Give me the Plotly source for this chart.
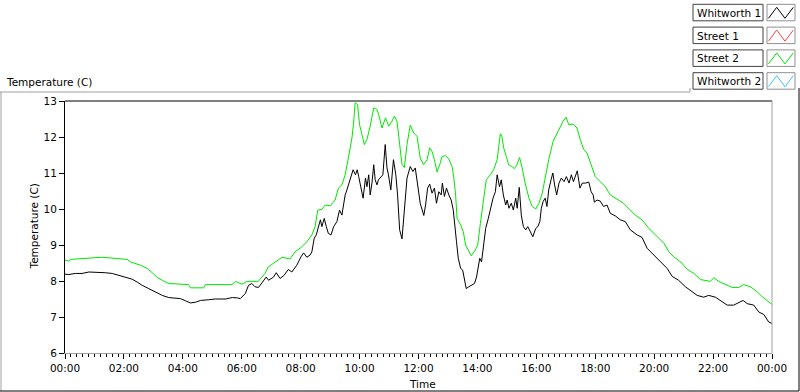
import plotly.graph_objects as go

# ---------------- data (hours since midnight, temperature in C) ----------------
street2_time = [0.00,0.13,0.18,0.92,1.26,2.11,2.22,2.56,2.79,2.96,
    3.13,3.30,3.52,4.20,4.26,4.71,4.77,5.67,5.79,6.01,
    6.18,6.56,6.69,6.79,6.90,7.08,7.24,7.37,7.64,7.81,
    8.04,8.21,8.38,8.49,8.58,8.72,8.83,9.00,9.17,9.28,
    9.40,9.51,9.62,9.74,9.79,9.85,9.93,10.00,10.08,10.16,
    10.25,10.36,10.48,10.59,10.65,10.76,10.88,10.99,11.10,11.18,
    11.27,11.36,11.44,11.52,11.61,11.72,11.84,11.95,12.06,12.17,
    12.29,12.38,12.46,12.54,12.63,12.72,12.80,12.92,13.03,13.14,
    13.20,13.26,13.31,13.43,13.52,13.60,13.71,13.79,13.93,14.01,
    14.10,14.19,14.30,14.44,14.55,14.67,14.78,14.83,14.89,14.98,
    15.06,15.17,15.26,15.34,15.43,15.51,15.62,15.75,15.86,15.98,
    16.09,16.20,16.34,16.42,16.57,16.70,16.81,16.91,17.01,17.10,
    17.25,17.38,17.49,17.61,17.72,17.89,18.00,18.17,18.34,18.51,
    18.79,18.96,19.19,19.36,19.59,19.82,20.11,20.33,20.50,20.67,
    20.90,21.13,21.35,21.57,21.91,22.02,22.19,22.36,22.65,22.87,
    23.04,23.27,23.50,23.67,23.84,24.00]
street2 = [8.58,8.55,8.60,8.63,8.66,8.60,8.53,8.44,8.35,8.23,
    8.10,8.02,7.93,7.90,7.81,7.81,7.90,7.90,7.99,7.91,
    7.99,7.99,8.11,8.21,8.39,8.49,8.58,8.66,8.61,8.81,
    8.95,9.09,9.28,9.51,9.97,9.99,10.11,10.09,10.25,10.58,
    10.67,10.95,11.42,11.97,12.34,12.95,12.90,12.34,12.07,11.79,
    11.93,12.30,12.81,12.76,12.62,12.25,12.53,12.30,12.44,12.58,
    12.44,11.79,11.23,11.15,11.79,12.33,12.11,12.02,11.42,11.23,
    11.37,11.70,11.60,11.37,11.03,11.23,11.46,11.48,11.39,11.18,
    10.86,10.39,9.74,9.56,9.37,9.00,8.81,8.70,8.86,9.00,
    9.60,10.21,10.81,10.95,11.09,11.37,12.09,12.02,11.70,11.46,
    11.23,11.18,11.12,11.23,11.43,11.18,10.72,10.30,10.07,10.00,
    10.16,10.44,11.04,11.37,11.88,12.11,12.30,12.44,12.55,12.34,
    12.36,12.25,11.93,11.65,11.56,11.18,10.90,10.76,10.62,10.39,
    10.25,10.16,9.97,9.83,9.70,9.46,9.23,9.05,8.81,8.67,
    8.53,8.32,8.21,8.04,7.99,8.09,7.99,7.93,7.82,7.82,
    7.90,7.84,7.70,7.56,7.46,7.35]

whitworth1_time = [0.00,0.13,0.35,0.58,0.81,1.03,1.37,1.60,1.82,2.05,
    2.28,2.45,2.62,2.84,3.07,3.30,3.52,3.92,4.09,4.26,
    4.43,4.60,4.88,5.11,5.45,5.68,5.85,5.95,6.12,6.23,
    6.34,6.45,6.57,6.68,6.83,6.91,7.08,7.17,7.30,7.44,
    7.58,7.70,7.87,8.01,8.10,8.21,8.32,8.38,8.46,8.53,
    8.61,8.67,8.72,8.80,8.87,8.94,9.03,9.12,9.23,9.32,
    9.40,9.51,9.57,9.69,9.78,9.86,9.92,9.97,10.03,10.12,
    10.20,10.25,10.31,10.36,10.42,10.48,10.53,10.59,10.64,10.70,
    10.79,10.87,10.93,10.98,11.06,11.15,11.23,11.29,11.36,11.44,
    11.49,11.55,11.61,11.72,11.81,11.89,11.97,12.06,12.18,12.24,
    12.31,12.38,12.46,12.54,12.61,12.69,12.77,12.81,12.88,12.95,
    13.03,13.11,13.18,13.23,13.29,13.35,13.43,13.50,13.56,13.62,
    13.71,13.82,13.90,13.97,14.03,14.08,14.14,14.20,14.28,14.37,
    14.44,14.53,14.61,14.67,14.75,14.81,14.88,14.96,15.01,15.07,
    15.15,15.22,15.30,15.35,15.42,15.49,15.56,15.64,15.71,15.81,
    15.88,15.98,16.05,16.12,16.17,16.23,16.30,16.36,16.42,16.50,
    16.56,16.62,16.69,16.77,16.85,16.94,17.02,17.11,17.19,17.26,
    17.34,17.39,17.48,17.56,17.67,17.78,17.86,17.93,17.97,18.06,
    18.17,18.28,18.40,18.51,18.68,18.85,19.02,19.19,19.42,19.59,
    19.76,19.98,20.21,20.44,20.61,20.83,21.06,21.23,21.46,21.68,
    21.85,22.08,22.31,22.48,22.70,22.87,23.02,23.16,23.38,23.55,
    23.72,23.89,24.00]
whitworth1 = [8.19,8.18,8.21,8.21,8.25,8.25,8.23,8.21,8.16,8.10,
    8.05,7.97,7.88,7.79,7.70,7.60,7.54,7.51,7.45,7.39,
    7.41,7.46,7.48,7.50,7.50,7.54,7.53,7.51,7.65,7.88,
    7.93,7.84,7.82,7.93,8.11,8.02,8.11,8.23,8.07,8.16,
    8.32,8.25,8.44,8.67,8.78,8.66,8.72,8.81,9.19,9.28,
    9.51,9.70,9.51,9.74,9.51,9.32,9.28,9.51,9.65,9.97,
    9.83,10.39,10.53,10.86,11.09,10.95,11.09,10.90,10.62,10.30,
    10.86,10.62,10.95,10.39,10.72,11.23,10.81,10.67,10.81,10.86,
    10.95,11.79,11.14,10.95,10.53,11.37,10.95,10.39,9.42,9.17,
    9.65,10.30,10.86,11.18,11.04,11.14,10.67,10.15,9.82,10.11,
    10.58,10.69,10.44,10.58,10.16,10.48,10.39,10.72,10.35,10.58,
    10.39,10.25,9.97,9.46,9.09,8.63,8.35,8.30,8.07,7.79,
    7.84,7.88,7.93,8.11,8.44,8.63,8.53,9.00,9.46,9.74,
    10.02,10.30,10.48,10.95,10.62,10.81,10.39,10.11,10.25,10.02,
    10.16,9.97,10.30,10.02,10.60,9.83,9.51,9.42,9.51,9.32,
    9.23,9.46,9.51,9.65,10.02,10.21,10.30,10.07,10.53,10.81,
    11.00,10.67,10.39,10.72,10.86,10.76,10.90,10.72,10.95,10.76,
    10.95,11.06,10.58,10.72,10.72,10.75,10.48,10.39,10.19,10.25,
    10.22,10.07,10.11,9.88,9.81,9.70,9.65,9.42,9.28,9.21,
    8.91,8.72,8.53,8.35,8.13,8.02,7.84,7.74,7.60,7.55,
    7.60,7.55,7.42,7.33,7.33,7.39,7.46,7.37,7.33,7.14,
    7.07,6.86,6.82]

# Street 1 and Whitworth 2 are listed in the legend but have no visible data
street1_time, street1 = [], []
whitworth2_time, whitworth2 = [], []

series_names = ["Whitworth 1", "Street 1", "Street 2", "Whitworth 2"]
series_colors = ["#000000", "#ff4040", "#00e800", "#3cc0ff"]

x_tick_vals = [0, 2, 4, 6, 8, 10, 12, 14, 16, 18, 20, 22, 24]
x_tick_text = ["00:00", "02:00", "04:00", "06:00", "08:00", "10:00", "12:00",
               "14:00", "16:00", "18:00", "20:00", "22:00", "00:00"]
y_range = [6, 13]

chart_title = "Temperature (C)"
x_title = "Time"
y_title = "Temperature (C)"

# ---------------- layout geometry ----------------
W, H = 800, 392
ML, MR, MT, MB = 65, 28, 101, 39
PW, PH = W - ML - MR, H - MT - MB


def px(x):
    return (x - ML) / PW


def py(y):
    return (H - MB - y) / PH


FONT = "DejaVu Sans"
FS = 10.5

fig = go.Figure()
series = [(whitworth1_time, whitworth1), (street1_time, street1),
          (street2_time, street2), (whitworth2_time, whitworth2)]
for idx in [2, 1, 3, 0]:
    t, v = series[idx]
    fig.add_trace(go.Scatter(x=t, y=v, mode="lines", name=series_names[idx],
                             line=dict(color=series_colors[idx], width=1),
                             showlegend=False, hoverinfo="skip"))

shapes = []
shapes.append(dict(type="line", xref="paper", yref="paper", x0=0, x1=1, y0=1, y1=1,
                   line=dict(color="#000000", width=1)))
shapes.append(dict(type="line", xref="paper", yref="paper", x0=1, x1=1, y0=0, y1=1,
                   line=dict(color="#a0a0a0", width=1)))
gray = "#a0a0a0"
shapes += [
    dict(type="line", xref="paper", yref="paper", x0=px(0), x1=px(690), y0=py(92), y1=py(92),
         line=dict(color=gray, width=1)),
    dict(type="line", xref="paper", yref="paper", x0=px(1), x1=px(1), y0=py(92), y1=py(391),
         line=dict(color=gray, width=1)),
    dict(type="line", xref="paper", yref="paper", x0=px(690), x1=px(690), y0=py(88), y1=py(92),
         line=dict(color=gray, width=1)),
    dict(type="line", xref="paper", yref="paper", x0=px(0), x1=px(799), y0=py(391), y1=py(391),
         line=dict(color="#000000", width=1)),
    dict(type="line", xref="paper", yref="paper", x0=px(799), x1=px(799), y0=py(88), y1=py(391),
         line=dict(color="#000000", width=1)),
]

annotations = []
for i, (name, col) in enumerate(zip(series_names, series_colors)):
    top = 4.3 + 22.8 * i
    bot = top + 16.5
    shapes.append(dict(type="rect", xref="paper", yref="paper",
                       x0=px(693), x1=px(763), y0=py(top), y1=py(bot),
                       line=dict(color="#404040", width=1), fillcolor="white"))
    shapes.append(dict(type="rect", xref="paper", yref="paper",
                       x0=px(767), x1=px(795), y0=py(top), y1=py(bot),
                       line=dict(color="#909090", width=1), fillcolor="white"))
    pts = [(768.5, top + 14), (776.7, top + 3), (785, top + 14), (793.3, top + 3)]
    path = "M " + " L ".join(f"{px(a):.5f},{py(b):.5f}" for a, b in pts)
    shapes.append(dict(type="path", xref="paper", yref="paper", path=path,
                       line=dict(color=col, width=1)))
    annotations.append(dict(text=name, xref="paper", yref="paper", x=px(695), y=py(top + 8.5),
                            xanchor="left", yanchor="middle", showarrow=False,
                            font=dict(family=FONT, size=FS, color="#000000")))

annotations.append(dict(text=chart_title, xref="paper", yref="paper", x=px(4), y=py(81.5),
                        xanchor="left", yanchor="middle", showarrow=False,
                        font=dict(family=FONT, size=FS, color="#000000")))
annotations.append(dict(text=y_title, xref="paper", yref="paper", x=px(33), y=py(226.5),
                        xanchor="center", yanchor="middle", textangle=-90, showarrow=False,
                        font=dict(family=FONT, size=FS, color="#000000")))
annotations.append(dict(text=x_title, xref="paper", yref="paper", x=px(422), y=py(384),
                        xanchor="center", yanchor="middle", showarrow=False,
                        font=dict(family=FONT, size=FS, color="#000000")))

fig.update_layout(
    width=W, height=H,
    margin=dict(l=ML, r=MR, t=MT, b=MB, pad=0),
    paper_bgcolor="white", plot_bgcolor="white",
    showlegend=False, hovermode=False, dragmode=False,
    font=dict(family=FONT, size=FS, color="#000000"),
    shapes=shapes, annotations=annotations,
    xaxis=dict(range=[0, 24], tickmode="array", tickvals=x_tick_vals, ticktext=x_tick_text,
               showgrid=False, zeroline=False, showline=True, linecolor="#a0a0a0", linewidth=1,
               ticks="outside", ticklen=5, tickcolor="#000000", tickwidth=1,
               minor=dict(dtick=0.2, tick0=0, ticks="outside", ticklen=3,
                          tickcolor="#000000", tickwidth=1, showgrid=False),
               tickfont=dict(family=FONT, size=FS, color="#000000")),
    yaxis=dict(range=y_range, dtick=1, tick0=6, showgrid=False, zeroline=False,
               showline=True, linecolor="#000000", linewidth=1,
               ticks="outside", ticklen=5, tickcolor="#000000", tickwidth=1,
               tickfont=dict(family=FONT, size=FS, color="#000000")),
)

fig.write_html("out.html",
               config={"displayModeBar": False, "staticPlot": True},
               post_script="document.body.style.margin='0';document.body.style.overflow='hidden';")
